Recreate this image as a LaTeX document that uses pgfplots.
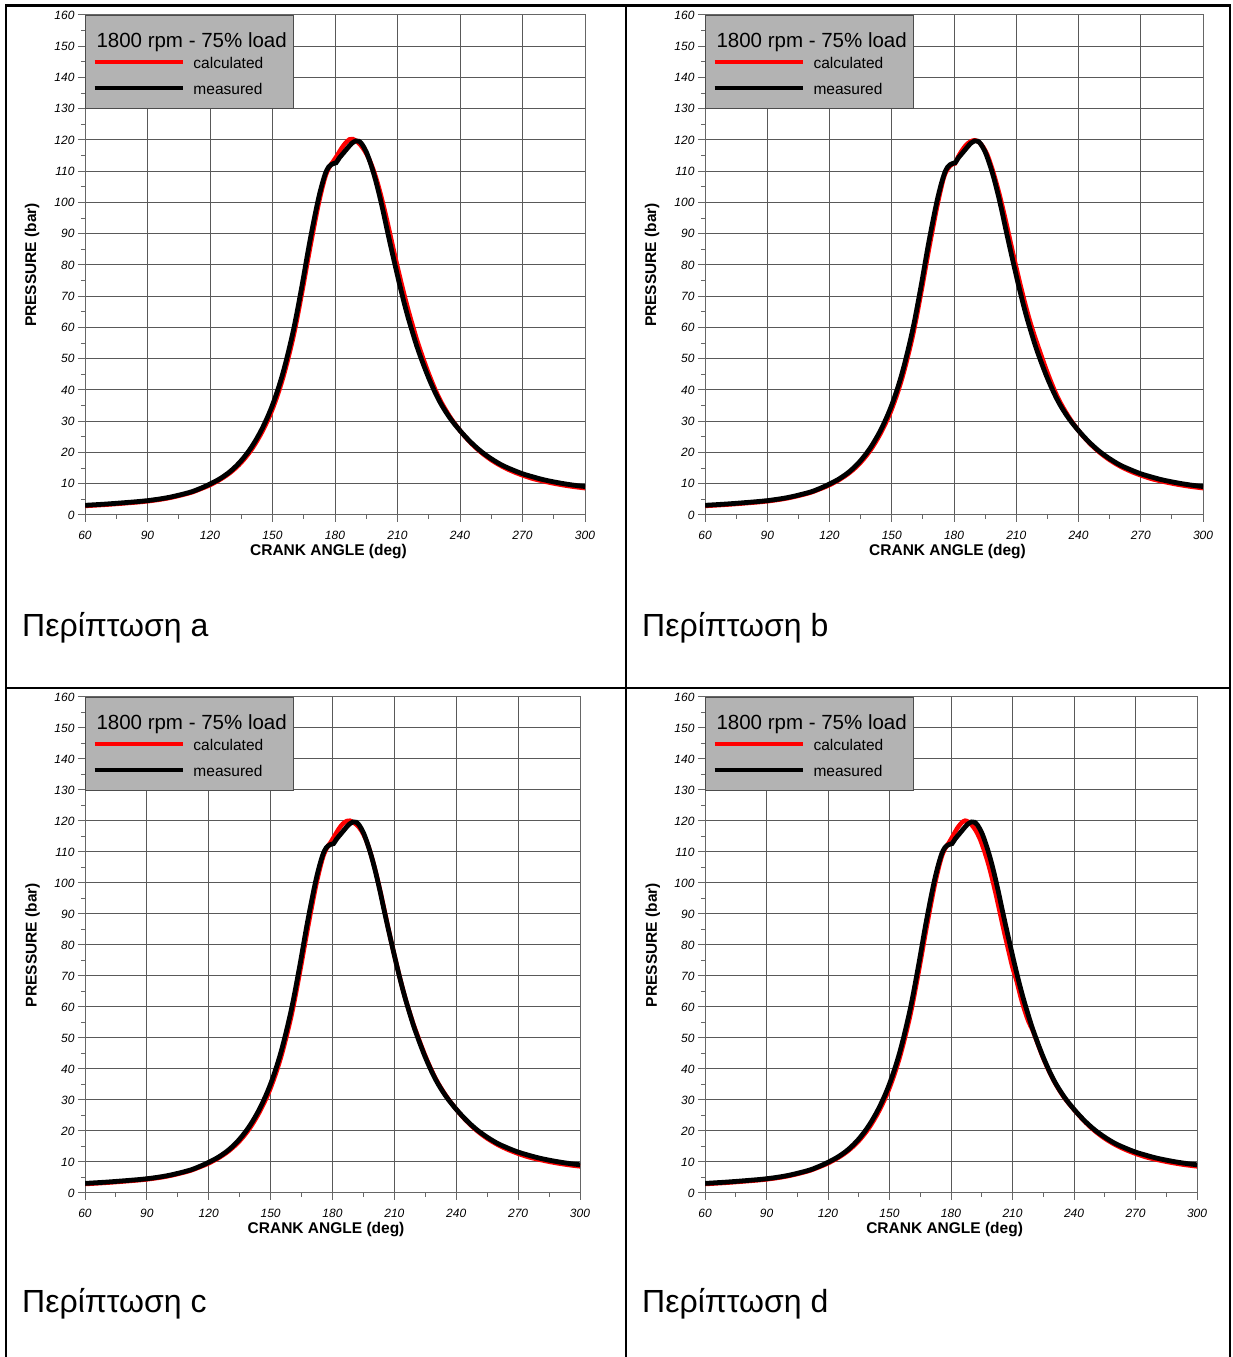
\documentclass[border=0pt]{standalone}
\usepackage{fontspec}
\setmainfont{Liberation Sans}
\usepackage{pgfplots}
\usepackage{pgfplotstable}
\pgfplotsset{compat=1.18}
\definecolor{legendgray}{RGB}{179,179,179}

\pgfplotstableread{
x y
60 3.1
70 3.5
80 4.0
90 4.6
100 5.6
110 7.2
115 8.4
120 9.9
125 11.7
130 14.1
135 17.4
140 21.8
145 27.6
150 35.2
155 45.4
160 59.0
164 72.8
168 87.8
172 101.0
175 108.5
177 111.4
179 112.4
180.5 112.7
182 114.2
184 115.8
186 117.4
188 118.9
190 119.7
191.5 119.6
193 118.6
195 116.2
197 112.6
199 108.3
201 103.2
203 97.5
205 91.3
207 85.3
209 79.5
211 73.8
213 68.4
215 63.4
217 58.9
220 52.6
225 43.8
230 36.6
235 31.2
240 27.0
245 23.4
250 20.4
255 18.0
260 16.0
265 14.5
270 13.2
275 12.2
280 11.3
285 10.6
290 10.0
295 9.5
300 9.1
}\measured

\pgfplotstableread{
x y
60 2.9
70 3.3
80 3.8
90 4.4
100 5.4
110 7.0
115 8.2
120 9.6
125 11.4
130 13.7
135 16.8
140 21.0
145 26.6
150 33.9
155 43.8
160 57.0
164 70.6
168 85.4
172 99.2
175 107.5
177 111.0
179 113.0
181 115.0
183 117.2
185 119.0
187 120.2
188.5 120.3
190 119.8
192 118.6
194 116.8
196 114.4
198 111.2
200 107.2
202 102.4
204 97.0
206 91.2
208 85.2
210 79.4
212 73.8
214 68.5
216 63.6
218 59.0
220 54.6
225 45.2
230 37.4
235 31.6
240 27.0
245 23.2
250 20.1
255 17.6
260 15.6
265 14.0
270 12.7
275 11.6
280 10.8
285 10.1
290 9.5
295 9.0
300 8.6
}\calcA

\pgfplotstableread{
x y
60 2.9
70 3.3
80 3.8
90 4.4
100 5.4
110 7.0
115 8.2
120 9.6
125 11.4
130 13.7
135 16.8
140 21.0
145 26.6
150 33.9
155 43.8
160 57.0
164 70.6
168 85.4
172 99.2
175 107.8
177 110.8
179 112.2
180.5 112.5
182 114.6
184 116.8
186 118.5
188 119.5
190 119.9
192 119.3
194 117.8
196 115.3
198 111.6
200 107.2
202 102.3
204 96.8
206 91.0
208 85.0
210 79.2
212 73.6
214 68.3
216 63.4
218 59.0
220 55.0
225 45.6
230 37.6
235 31.7
240 27.0
245 23.2
250 20.1
255 17.6
260 15.6
265 14.0
270 12.7
275 11.6
280 10.8
285 10.1
290 9.5
295 9.0
300 8.6
}\calcB

\pgfplotstableread{
x y
60 2.9
70 3.3
80 3.8
90 4.4
100 5.4
110 7.0
115 8.2
120 9.6
125 11.4
130 13.7
135 16.8
140 21.0
145 26.6
150 33.9
155 43.8
160 57.0
164 70.6
168 85.4
172 99.2
175 107.5
177 111.0
179 113.0
181 115.2
183 117.4
185 119.1
187 120.0
188.5 120.1
190 119.6
192 118.6
194 116.9
196 114.3
198 110.6
200 106.0
202 100.7
204 94.8
206 88.6
208 82.5
210 76.7
212 71.2
214 66.0
216 61.2
218 57.0
220 53.0
225 44.2
230 36.9
235 31.4
240 27.0
245 23.2
250 20.1
255 17.6
260 15.6
265 14.0
270 12.7
275 11.6
280 10.8
285 10.1
290 9.5
295 9.0
300 8.6
}\calcC

\pgfplotstableread{
x y
60 2.9
70 3.3
80 3.8
90 4.4
100 5.4
110 7.0
115 8.2
120 9.6
125 11.4
130 13.7
135 16.8
140 21.0
145 26.6
150 33.9
155 43.8
160 57.0
164 70.6
168 85.4
172 99.2
175 107.5
177 111.0
179 113.0
181 115.3
183 117.6
185 119.3
186.8 120.1
188.5 119.7
190 118.8
192 117.0
194 114.4
196 110.8
198 106.6
200 101.6
202 96.0
204 90.0
206 84.0
208 78.3
210 72.8
212 68.4
214 63.2
216 58.7
218 55.0
220 52.2
225 43.5
230 36.4
235 31.0
240 26.9
245 23.2
250 20.1
255 17.6
260 15.6
265 14.0
270 12.7
275 11.6
280 10.8
285 10.1
290 9.5
295 9.0
300 8.6
}\calcD

\pgfplotsset{
  calcline/.style={red,line width=4.5pt,smooth,tension=0.55},
  measline/.style={black,line width=4.8pt,smooth,tension=0.55},
  panel/.style={
    scale only axis,
    anchor=south west,
    xmin=60,xmax=300,ymin=0,ymax=160,
    xtick={60,90,...,300}, ytick={0,10,...,160},
    minor x tick num=1, minor y tick num=1,
    grid=major,
    major grid style={draw=black!65,line width=1pt},
    axis line style={draw=black!60,line width=1pt},
    tick style={draw=black!60,line width=1pt},
    tick align=outside, tick pos=left,
    major tick length=7pt, minor tick length=4pt,
    /pgf/number format/assume math mode=true,
    xticklabel style={font=\fontsize{12}{14}\selectfont\itshape, yshift=-6pt},
    yticklabel style={font=\fontsize{12}{14}\selectfont\itshape},
    xlabel={CRANK ANGLE (deg)}, ylabel={PRESSURE (bar)},
    label style={font=\fontsize{15.5}{17}\selectfont\bfseries},
    xlabel style={at={(axis description cs:0.487,-0.073)},anchor=center},
    ylabel style={at={(axis description cs:-0.106,0.5)},anchor=center},
    legend style={at={(0,1)},anchor=north west,fill=legendgray,draw=black!70,line width=1pt,
      font=\fontsize{15.5}{17}\selectfont,
      inner xsep=7pt, inner ysep=10pt, column sep=9pt, row sep=0pt,
      nodes={inner sep=0pt, text height=20pt, text depth=4pt},
      cells={anchor=base west}},
    legend image code/.code={\draw[#1,line width=4pt] (0pt,6pt) -- (88pt,6pt);},
  }
}

\newcommand{\legendbits}{%
  \addlegendimage{empty legend}
  \addlegendentry[font=\fontsize{20.5}{22}\selectfont, text height=22pt, text depth=3pt]{\hspace*{-97pt}1800 rpm - 75\% load}%
}

\begin{document}
\begin{tikzpicture}[x=1pt,y=1pt]
\useasboundingbox (0,0) rectangle (1232,1357);

\begin{axis}[panel, at={(85pt,842pt)}, width=500pt, height=500pt]
\legendbits
\addplot[calcline] table {\calcA}; \addlegendentry[text height=18pt, text depth=6pt]{calculated}
\addplot[measline] table {\measured}; \addlegendentry{measured}
\end{axis}

\begin{axis}[panel, at={(705pt,842pt)}, width=498pt, height=500pt]
\legendbits
\addplot[calcline] table {\calcB}; \addlegendentry[text height=18pt, text depth=6pt]{calculated}
\addplot[measline] table {\measured}; \addlegendentry{measured}
\end{axis}

\begin{axis}[panel, at={(85pt,164pt)}, width=495pt, height=496pt]
\legendbits
\addplot[calcline] table {\calcC}; \addlegendentry[text height=18pt, text depth=6pt]{calculated}
\addplot[measline] table {\measured}; \addlegendentry{measured}
\end{axis}

\begin{axis}[panel, at={(705pt,164pt)}, width=492pt, height=496pt]
\legendbits
\addplot[calcline] table {\calcD}; \addlegendentry[text height=18pt, text depth=6pt]{calculated}
\addplot[measline] table {\measured}; \addlegendentry{measured}
\end{axis}

\draw[line width=2.3pt] (6,0) -- (6,1351.5) -- (1230,1351.5) -- (1230,0);
\draw[line width=2.3pt] (626,0) -- (626,1351.5);
\draw[line width=2.3pt] (6,669) -- (1230,669);

\node[anchor=base west,inner sep=0pt,font=\fontsize{32}{36}\selectfont] at (22,720) {Περίπτωση a};
\node[anchor=base west,inner sep=0pt,font=\fontsize{32}{36}\selectfont] at (642,720) {Περίπτωση b};
\node[anchor=base west,inner sep=0pt,font=\fontsize{32}{36}\selectfont] at (22,44) {Περίπτωση c};
\node[anchor=base west,inner sep=0pt,font=\fontsize{32}{36}\selectfont] at (642,44) {Περίπτωση d};
\end{tikzpicture}
\end{document}
